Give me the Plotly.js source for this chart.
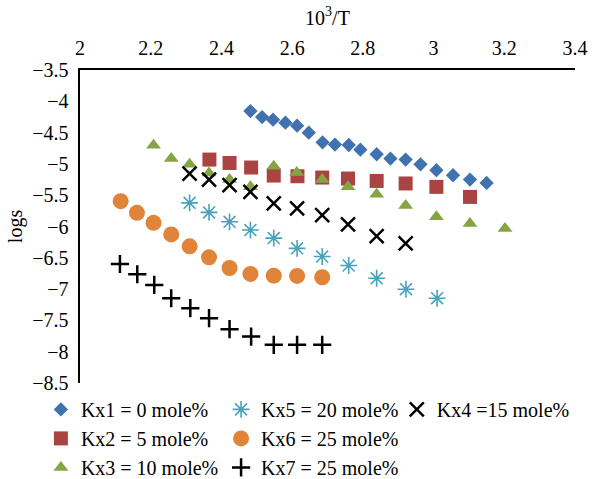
<!DOCTYPE html>
<html>
<head>
<meta charset="utf-8">
<script src="https://cdn.plot.ly/plotly-3.0.1.min.js"></script>
<style>html,body{margin:0;padding:0;background:#fff;}#chart{width:592px;height:479px;}</style>
</head>
<body>
<div id="chart"></div>
<script>
// ---- data ----
const kx1X = [2.482, 2.515, 2.546, 2.581, 2.614, 2.647, 2.686, 2.721, 2.760, 2.793, 2.839, 2.878, 2.921, 2.963, 3.008, 3.055, 3.103, 3.150];
const kx1Y = [-4.156, -4.252, -4.294, -4.341, -4.389, -4.501, -4.655, -4.692, -4.698, -4.772, -4.846, -4.915, -4.931, -5.006, -5.101, -5.181, -5.250, -5.304];

const kx2X = [2.366, 2.423, 2.484, 2.548, 2.615, 2.685, 2.758, 2.839, 2.921, 3.008, 3.103];
const kx2Y = [-4.931, -4.985, -5.058, -5.186, -5.197, -5.218, -5.234, -5.272, -5.313, -5.367, -5.527];

const kx3X = [2.208, 2.258, 2.310, 2.365, 2.423, 2.482, 2.548, 2.613, 2.685, 2.758, 2.839, 2.921, 3.008, 3.103, 3.202];
const kx3Y = [-4.703, -4.915, -5.006, -5.144, -5.250, -5.367, -5.038, -5.138, -5.250, -5.367, -5.484, -5.664, -5.845, -5.951, -6.030];

const kx4X = [2.310, 2.365, 2.423, 2.482, 2.548, 2.614, 2.685, 2.758, 2.839, 2.921];
const kx4Y = [-5.154, -5.250, -5.340, -5.447, -5.632, -5.712, -5.818, -5.965, -6.153, -6.269];

const kx5X = [2.310, 2.365, 2.423, 2.482, 2.548, 2.614, 2.685, 2.760, 2.839, 2.922, 3.010];
const kx5Y = [-5.622, -5.775, -5.925, -6.057, -6.185, -6.349, -6.480, -6.623, -6.827, -7.002, -7.146];

const kx6X = [2.115, 2.161, 2.208, 2.258, 2.310, 2.365, 2.423, 2.482, 2.548, 2.614, 2.685];
const kx6Y = [-5.595, -5.782, -5.941, -6.126, -6.317, -6.492, -6.663, -6.758, -6.786, -6.790, -6.811];

const kx7X = [2.113, 2.162, 2.210, 2.258, 2.312, 2.365, 2.423, 2.484, 2.548, 2.614, 2.685];
const kx7Y = [-6.599, -6.763, -6.934, -7.146, -7.305, -7.464, -7.640, -7.758, -7.890, -7.890, -7.890];

const seriesNames = ["Kx1 = 0 mole%", "Kx2 = 5 mole%", "Kx3 = 10 mole%", "Kx4 =15 mole%",
                     "Kx5 = 20 mole%", "Kx6 = 25 mole%", "Kx7 = 25 mole%"];
const xTickVals = [2, 2.2, 2.4, 2.6, 2.8, 3, 3.2, 3.4];
const xTickText = ["2", "2.2", "2.4", "2.6", "2.8", "3", "3.2", "3.4"];
const yTickVals = [-3.5, -4, -4.5, -5, -5.5, -6, -6.5, -7, -7.5, -8, -8.5];

const FONT = "'Liberation Serif', 'Times New Roman', serif";

const traces = [
  {x: kx1X, y: kx1Y, name: seriesNames[0], legend: "legend", legendgroup: "g1", mode: "markers",
   marker: {symbol: "diamond", size: 11, color: "#3F72AE"}},
  {x: kx2X, y: kx2Y, name: seriesNames[1], legend: "legend", legendgroup: "g2", mode: "markers",
   marker: {symbol: "square", size: 14, color: "#A94442"}},
  {x: kx3X, y: kx3Y, name: seriesNames[2], legend: "legend", legendgroup: "g3", mode: "markers",
   marker: {symbol: "triangle-up", size: 13, color: "#87A445"}},
  {x: kx4X, y: kx4Y, name: seriesNames[3], legend: "legend3", legendgroup: "g4", mode: "markers",
   marker: {symbol: "x-thin-open", size: 14, color: "#000000", line: {width: 2.5, color: "#000000"}}},
  {x: kx5X, y: kx5Y, name: seriesNames[4], legend: "legend2", legendgroup: "g5", mode: "markers",
   marker: {symbol: "asterisk-open", size: 14, color: "#48A2BC", line: {width: 1.6, color: "#48A2BC"}}},
  {x: kx6X, y: kx6Y, name: seriesNames[5], legend: "legend2", legendgroup: "g6", mode: "markers",
   marker: {symbol: "circle", size: 16, color: "#E0843A"}},
  {x: kx7X, y: kx7Y, name: seriesNames[6], legend: "legend2", legendgroup: "g7", mode: "markers",
   marker: {symbol: "cross-thin-open", size: 13, color: "#000000", line: {width: 2.5, color: "#000000"}}}
];

const legendCommon = {
  xref: "paper", yref: "paper", xanchor: "left", yanchor: "top",
  orientation: "v", bgcolor: "rgba(0,0,0,0)", tracegroupgap: 0,
  font: {family: FONT, size: 20, color: "#000"}
};

const layout = {
  width: 592, height: 479,
  margin: {l: 80, r: 17, t: 70, b: 96, autoexpand: false},
  paper_bgcolor: "#fff", plot_bgcolor: "#fff",
  font: {family: FONT, size: 20, color: "#000"},
  showlegend: true,
  xaxis: {
    side: "top", range: [2, 3.4], tickvals: xTickVals, ticktext: xTickText,
    showline: true, linecolor: "#000", linewidth: 2.5, showgrid: false, zeroline: false,
    ticks: "", ticklabelstandoff: 5,
    title: {text: "10<sup>3</sup>/T", font: {family: FONT, size: 20}, standoff: 6}
  },
  yaxis: {
    range: [-8.5, -3.5], tickvals: yTickVals,
    showline: true, linecolor: "#000", linewidth: 2.5, showgrid: false, zeroline: false,
    ticks: "", ticklabelstandoff: 5,
    title: {text: "logs", font: {family: FONT, size: 20}, standoff: 4}
  },
  legend: Object.assign({}, legendCommon, {x: -0.079, y: -0.022}),
  legend2: Object.assign({}, legendCommon, {x: 0.285, y: -0.022}),
  legend3: Object.assign({}, legendCommon, {x: 0.640, y: -0.022})
};

Plotly.newPlot("chart", traces, layout, {displayModeBar: false, staticPlot: true});
</script>
</body>
</html>
